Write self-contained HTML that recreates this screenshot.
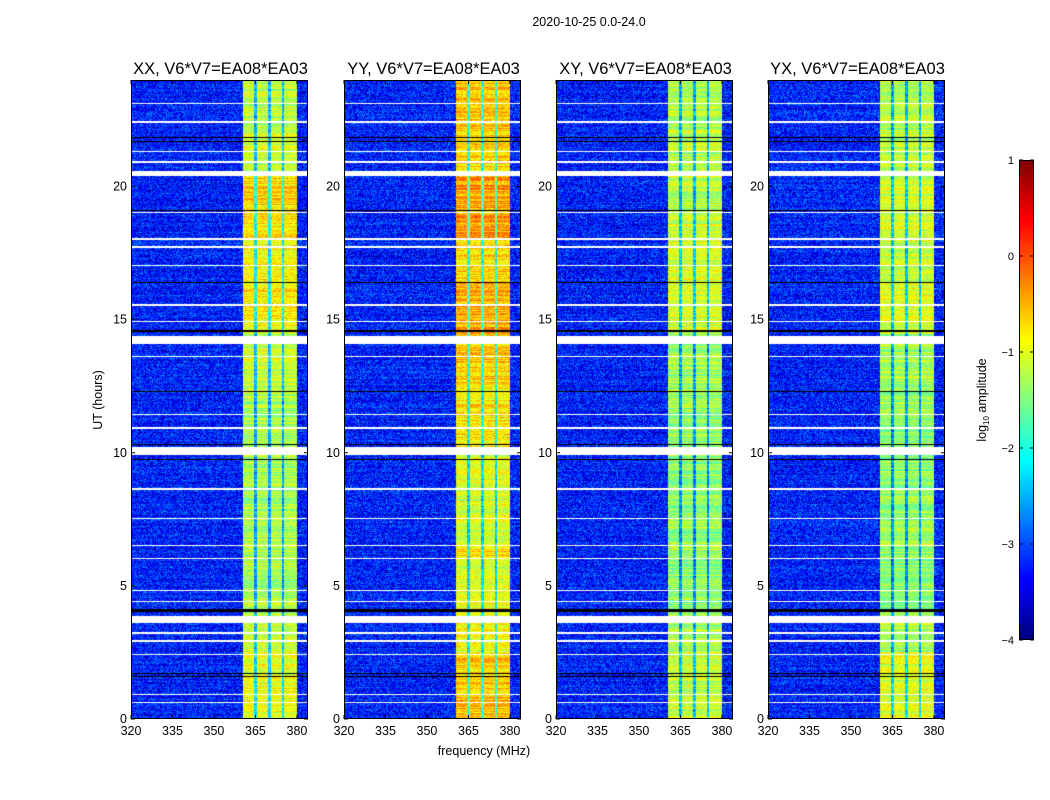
<!DOCTYPE html>
<html><head><meta charset="utf-8">
<style>
body{margin:0;background:#fff;width:1050px;height:800px;overflow:hidden;font-family:"Liberation Sans",sans-serif;}
#root{position:relative;width:1050px;height:800px;}
canvas{position:absolute;}
svg{position:absolute;left:0;top:0;}
</style></head><body>
<div id="root">
<svg id="svg" width="1050" height="800"></svg>
</div>
<script>
// ---- data ----
const pols = ["XX","YY","XY","YX"];
const xTicks = [320,335,350,365,380];
const yTicks = [0,5,10,15,20];
const cbTicks = [1,0,-1,-2,-3,-4];
const cbLabels = ["1","0","\u22121","\u22122","\u22123","\u22124"];
const subbandEdges = [360.5,365,370,375,380];
const segStarts = [0,2.5,4,6,6.6,10,12.5,14.5,16.5,18,19,20.5,22];
const levelXX = [-0.95,-1.1,-1.3,-1.3,-1.3,-1.3,-1.1,-0.8,-0.9,-0.75,-0.7,-1.1,-1.2];
const levelYY = [-0.6,-0.9,-1.0,-0.75,-1.05,-0.8,-0.65,-0.5,-0.7,-0.4,-0.45,-0.7,-0.6];
const levelXY = [-1.1,-1.3,-1.4,-1.2,-1.4,-1.4,-1.3,-1.1,-1.1,-1.1,-1.2,-1.2,-1.2];
const levelYX = [-1.0,-1.3,-1.4,-1.3,-1.4,-1.4,-1.3,-1.0,-1.1,-1.0,-1.1,-1.2,-1.2];
const levels = [levelXX,levelYY,levelXY,levelYX];
const whiteStart = [20.38,14.1,9.9,3.6,23.1,22.4,21.3,20.9,19.0,18.0,17.7,17.0,15.5,14.9,13.6,11.4,10.9,8.6,7.5,6.5,6.0,4.8,4.4,3.2,2.9,2.4,0.9,0.6];
const whiteLen =   [0.22,0.3,0.3,0.25,0.05,0.05,0.05,0.06,0.05,0.05,0.05,0.05,0.08,0.05,0.05,0.05,0.05,0.06,0.05,0.05,0.05,0.05,0.05,0.06,0.05,0.05,0.05,0.05];
const blackRows = [21.85,21.7,16.4,14.6,14.55,10.3,9.75,4.1,4.05,1.7,1.6,19.1,12.3];
const baseLevel = -3.25;
// ---- layout ----
const panelX = [131,344,556,768], PW=177, PT=80, PB=719;
const fMin=320,fMax=384,tMin=0,tMax=24;
function xs(f,i){return panelX[i]+(f-fMin)/(fMax-fMin)*PW;}
function ys(t){return PB-(t-tMin)/(tMax-tMin)*(PB-PT);}
const vMin=-4,vMax=1;
function jet(v){let x=(v-vMin)/(vMax-vMin);x=Math.max(0,Math.min(1,x));
 const r=Math.max(0,Math.min(1,1.5-Math.abs(4*x-3))),g=Math.max(0,Math.min(1,1.5-Math.abs(4*x-2))),b=Math.max(0,Math.min(1,1.5-Math.abs(4*x-1)));
 return [r*255|0,g*255|0,b*255|0];}
function hash(a,b){let h=(a*374761393+b*668265263)|0;h=(h^(h>>>13))*1274126177|0;return ((h^(h>>>16))>>>0)/4294967295;}
function segLevel(arr,t){let k=0;for(let j=0;j<segStarts.length;j++)if(t>=segStarts[j])k=j;return arr[k];}
const root=document.getElementById('root');
const svg=document.getElementById('svg');
const NS="http://www.w3.org/2000/svg";
function el(tag,attrs,txt){const e=document.createElementNS(NS,tag);for(const k in attrs)e.setAttribute(k,attrs[k]);if(txt!==undefined)e.textContent=txt;svg.appendChild(e);return e;}
pols.forEach((p,i)=>{
 const cv=document.createElement('canvas');
 
 
 cv.width=PW;cv.height=PB-PT;cv.style.left=panelX[i]+'px';cv.style.top=PT+'px';
 root.insertBefore(cv,svg);
 const ctx=cv.getContext('2d');const im=ctx.createImageData(PW,PB-PT);
 for(let py=0;py<PB-PT;py++){
  const t=tMax-(py+0.5)/(PB-PT)*(tMax-tMin);
  const rowN=(hash(py,i*7+3)-0.5)*0.6;
  const rowB=(hash(py+77,i*5+1)-0.5)*0.3;
  let white=false;for(let k=0;k<whiteStart.length;k++)if(t>=whiteStart[k]&&t<whiteStart[k]+whiteLen[k])white=true;
  let black=false;for(const b of blackRows)if(Math.abs(t-b)<0.025)black=true;
  for(let px=0;px<PW;px++){
   const f=fMin+(px+0.5)/PW*(fMax-fMin);
   let v=baseLevel+rowB+(hash(px,py+i*1000)-0.5)*1.1;
   if(f>=subbandEdges[0]&&f<subbandEdges[subbandEdges.length-1]){
    let L=segLevel(levels[i],t)+rowN+(hash(px+500,py)-0.5)*0.6;
    for(const e of subbandEdges.slice(1,-1))if(Math.abs(f-e)<0.5)L-=1.3;
    v=L;
   }
   let c=white?[255,255,255]:(black?[0,0,0]:jet(v));
   const o=(py*PW+px)*4;im.data[o]=c[0];im.data[o+1]=c[1];im.data[o+2]=c[2];im.data[o+3]=255;
  }}
 ctx.putImageData(im,0,0);
 const fr=el('rect',{x:panelX[i]+0.5,y:PT+0.5,width:PW-1,height:PB-PT-1,fill:'none',stroke:'#000','stroke-width':1});
 
 
 const tt=el('text',{x:panelX[i]+PW/2+1,y:74,'text-anchor':'middle','font-size':16.5},p+', V6*V7=EA08*EA03');
 
 
 xTicks.forEach(v=>{const x=xs(v,i);
  el('line',{x1:x,x2:x,y1:PB,y2:PB-4,stroke:'#000'});el('line',{x1:x,x2:x,y1:PT,y2:PT+4,stroke:'#000'});
  const tl=el('text',{x:x,y:PB+16,'text-anchor':'middle','font-size':12.5},String(v));
  
  });
 yTicks.forEach(v=>{const y=ys(v);
  el('line',{x1:panelX[i],x2:panelX[i]+4,y1:y,y2:y,stroke:'#000'});el('line',{x1:panelX[i]+PW,x2:panelX[i]+PW-4,y1:y,y2:y,stroke:'#000'});
  const tl=el('text',{x:panelX[i]-4,y:y+4,'text-anchor':'end','font-size':12.5},String(v));
  
  });
});
// colorbar
const CBX=1019,CBW=15,CBT=160,CBB=640;
function cy(v){return CBB-(v-vMin)/(vMax-vMin)*(CBB-CBT);}
const cbc=document.createElement('canvas');


cbc.width=CBW;cbc.height=CBB-CBT;cbc.style.left=CBX+'px';cbc.style.top=CBT+'px';root.insertBefore(cbc,svg);
const cctx=cbc.getContext('2d');
for(let py=0;py<CBB-CBT;py++){const v=vMax-(py+0.5)/(CBB-CBT)*(vMax-vMin);const c=jet(v);cctx.fillStyle=`rgb(${c[0]},${c[1]},${c[2]})`;cctx.fillRect(0,py,CBW,1);}
el('rect',{x:CBX+0.5,y:CBT+0.5,width:CBW-1,height:CBB-CBT-1,fill:'none',stroke:'#000'});
cbTicks.forEach((v,k)=>{const y=cy(v);
 el('line',{x1:CBX,x2:CBX+4,y1:y,y2:y,stroke:'#000'});el('line',{x1:CBX+CBW,x2:CBX+CBW-4,y1:y,y2:y,stroke:'#000'});
 const tl=el('text',{x:CBX-5,y:y+4,'text-anchor':'end','font-size':11},cbLabels[k]);
 
 });
const cbt=el('text',{x:986,y:400,'text-anchor':'middle','font-size':12.5,transform:'rotate(-90 986 400)'});


cbt.innerHTML='log<tspan font-size="8" dy="3">10</tspan><tspan dy="-3"> amplitude</tspan>';
const st=el('text',{x:589,y:26,'text-anchor':'middle','font-size':12.5},'2020-10-25 0.0-24.0');


const xl=el('text',{x:484,y:755,'text-anchor':'middle','font-size':12.5},'frequency (MHz)');


const yl=el('text',{x:102,y:400,'text-anchor':'middle','font-size':12.5,transform:'rotate(-90 102 400)'},'UT (hours)');


</script>
</body></html>
